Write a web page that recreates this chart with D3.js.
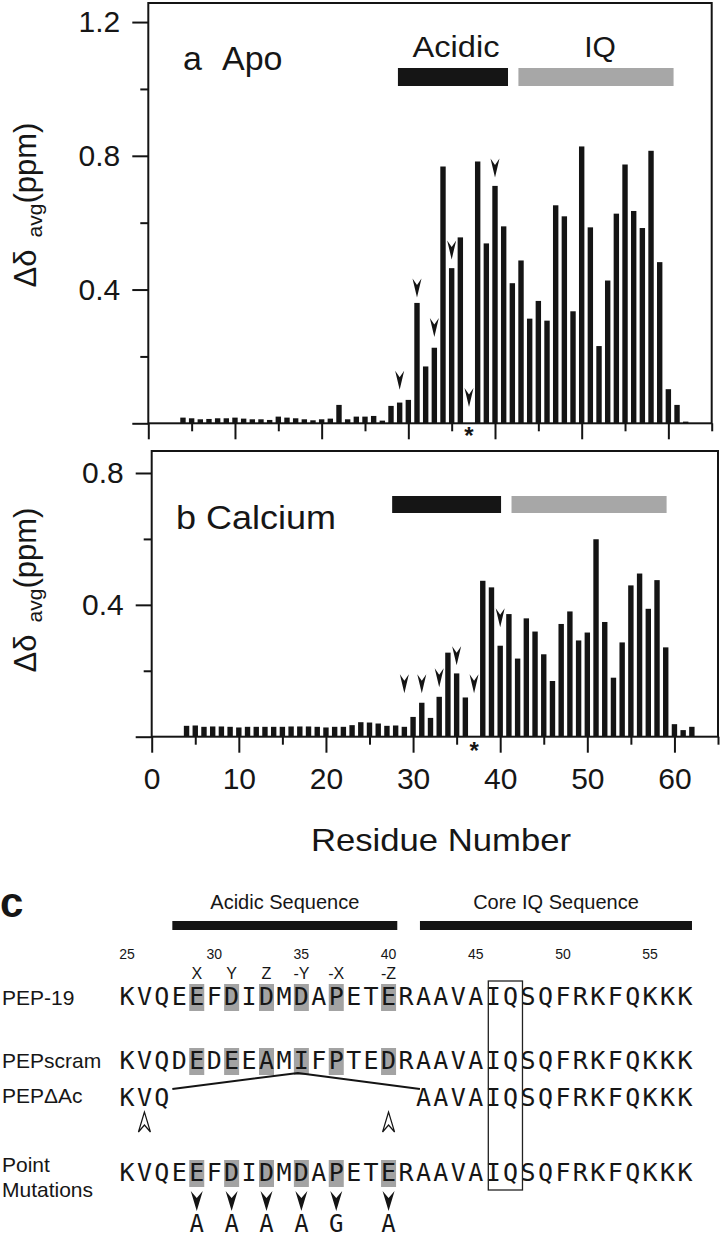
<!DOCTYPE html>
<html><head><meta charset="utf-8">
<script src="https://cdn.jsdelivr.net/npm/d3@7"></script>
<style>
body{margin:0;background:#fff}
svg{display:block}
text{font-family:"Liberation Sans",Arial,sans-serif;fill:#161616}
.mono{font-family:"DejaVu Sans Mono",monospace}
</style>
</head><body>
<svg id="fig" width="720" height="1237"></svg>
<script>
// ---------------- DATA ----------------
const residues = [4,5,6,7,8,9,10,11,12,13,14,15,16,17,18,19,20,21,22,23,24,25,26,27,28,29,30,31,32,33,34,35,36,37,38,39,40,41,42,43,44,45,46,47,48,49,50,51,52,53,54,55,56,57,58,59,60,61,62];
const apoShift = [0.017,0.015,0.012,0.013,0.015,0.015,0.017,0.014,0.012,0.012,0.010,0.020,0.017,0.015,0.012,0.009,0.012,0.014,0.055,0.012,0.020,0.020,0.022,0.008,0.052,0.062,0.070,0.360,0.170,0.226,0.768,0.464,0.556,null,0.783,0.538,0.710,0.589,0.419,0.487,0.313,0.366,0.307,0.652,0.619,0.335,0.828,0.586,0.231,0.427,0.627,0.774,0.635,0.584,0.815,0.482,0.102,0.055,0.005];
const calciumShift = [0.033,0.034,0.030,0.031,0.031,0.030,0.028,0.030,0.030,0.030,0.030,0.030,0.031,0.031,0.031,0.030,0.028,0.030,0.030,0.035,0.044,0.043,0.040,0.033,0.034,0.030,0.060,0.103,0.057,0.121,0.255,0.192,0.119,null,0.473,0.453,0.276,0.372,0.237,0.359,0.319,0.250,0.169,0.342,0.380,0.292,0.316,0.599,0.348,0.179,0.286,0.459,0.495,0.388,0.475,0.271,0.038,0.020,0.030];
const markedResidues = [29,31,33,35,37,40];
const apoArrowTips = [0.100,0.376,0.258,0.490,0.049,0.735];
const calciumArrowTips = [0.132,0.132,0.150,0.217,0.132,0.332];
const unassignedResidue = 37;
const apoRegions = [{name:"Acidic", from:28.8, to:41.5, color:"#151515"},{name:"IQ", from:42.7, to:60.6, color:"#a7a7a7"}];
const calciumRegions = [{name:"", from:27.6, to:40.1, color:"#151515"},{name:"", from:41.3, to:59.1, color:"#a7a7a7"}];
const apoYMajor = [0,0.4,0.8,1.2], apoYMinor = [0.2,0.6,1.0];
const caYMajor = [0,0.4,0.8], caYMinor = [0.2,0.6];
const xMajor = [0,10,20,30,40,50,60], xMinor = [5,15,25,35,45,55,65];

const seqNumbers = [25,30,35,40,45,50,55];
const pairLabels = ["X","Y","Z","-Y","-X","-Z"];
const pep19Seq = "KVQEEFDIDMDAPETERAAVAIQSQFRKFQKKK";
const pepScramSeq = "KVQDEDEEAMIFPTEDRAAVAIQSQFRKFQKKK";
const deltaAcN = {start:25, seq:"KVQ"};
const deltaAcC = {start:42, seq:"AAVAIQSQFRKFQKKK"};
const mutantResidues = ["A","A","A","A","G","A"];
const deletionEnds = [26,40];
const cRegions = [{name:"Acidic Sequence", from:27.6, to:40.5},{name:"Core IQ Sequence", from:41.8, to:57.4}];
const deletionLine = [{r:27.6,lvl:"low"},{r:34.8,lvl:"high"},{r:41.8,lvl:"low"}];
const iqBox = {from:45.72, to:47.68};

// ---------------- DRAW ----------------
const ink = "#141414";
const svg = d3.select("#fig");
const fmt = d3.format(".1f");

function styleAxis(g, font){
  g.select(".domain").remove();
  g.selectAll(".tick line").attr("stroke", ink).attr("stroke-width", 2);
  g.selectAll(".tick text").attr("font-size", font).attr("fill", ink).attr("font-family", '"Liberation Sans",Arial,sans-serif');
  g.attr("font-family", null).attr("font-size", null);
}

function yTitle(cx, cy){
  const t = svg.append("text").attr("transform", `translate(${cx},${cy}) rotate(-90)`)
    .attr("text-anchor","middle").attr("font-size",31);
  t.append("tspan").text("Δδ");
  t.append("tspan").attr("font-size",21).attr("dx",12).attr("dy",6).text("avg");
  t.append("tspan").attr("dy",-6).text("(ppm)");
}

function drawPanel(cfg){
  const x = d3.scaleLinear().domain([0,65]).range([cfg.left, cfg.right]);
  const y = d3.scaleLinear().domain([0, cfg.yMax]).range([cfg.bottom, cfg.top]);
  const g = svg.append("g");
  const data = residues.map((r,i)=>({r, v:cfg.values[i]})).filter(d=>d.v!=null);
  g.selectAll("rect.bar").data(data).join("rect").attr("class","bar")
    .attr("x", d=>x(d.r)-2.7).attr("width",5.4)
    .attr("y", d=>y(d.v)).attr("height", d=>y(0)-y(d.v)).attr("fill", ink);
  g.selectAll("path.arr").data(markedResidues.map((r,i)=>({r, v:cfg.tips[i]}))).join("path")
    .attr("class","arr")
    .attr("transform", d=>`translate(${x(d.r)},${y(d.v)})`)
    .attr("d","M0,0 L-4.5,-19 L0,-12.5 L4.5,-19 Z").attr("fill", ink);
  g.append("text").attr("x", x(unassignedResidue)).attr("y", cfg.bottom+cfg.starDy)
    .attr("text-anchor","middle").attr("font-size",24).attr("font-weight","bold").text("*");
  g.selectAll("rect.reg").data(cfg.regions).join("rect").attr("class","reg")
    .attr("x", d=>x(d.from)).attr("width", d=>x(d.to)-x(d.from))
    .attr("y", cfg.regY).attr("height", cfg.regH).attr("fill", d=>d.color);
  g.append("rect").attr("x",cfg.left).attr("y",cfg.top).attr("width",cfg.right-cfg.left)
    .attr("height",cfg.bottom-cfg.top).attr("fill","none").attr("stroke",ink).attr("stroke-width",2);
  const ya = g.append("g").attr("transform",`translate(${cfg.left},0)`)
    .call(d3.axisLeft(y).tickValues(cfg.yMajor).tickFormat(d=>d===0?"":fmt(d)).tickSize(16).tickSizeOuter(0).tickPadding(12));
  styleAxis(ya, 30);
  const ym = g.append("g").attr("transform",`translate(${cfg.left},0)`)
    .call(d3.axisLeft(y).tickValues(cfg.yMinor).tickFormat("").tickSize(8).tickSizeOuter(0));
  styleAxis(ym, 30);
  const xa = g.append("g").attr("transform",`translate(0,${cfg.bottom})`)
    .call(d3.axisBottom(x).tickValues(xMajor).tickFormat(cfg.xLabels ? d3.format("d") : "").tickSize(16).tickSizeOuter(0).tickPadding(15));
  styleAxis(xa, 30);
  const xm = g.append("g").attr("transform",`translate(0,${cfg.bottom})`)
    .call(d3.axisBottom(x).tickValues(xMinor).tickFormat("").tickSize(8).tickSizeOuter(0));
  styleAxis(xm, 30);
  return {x,y,g};
}

const pa = drawPanel({left:148.3,right:711.7,top:3,bottom:423.3,yMax:1.257,values:apoShift,tips:apoArrowTips,
  regions:apoRegions,regY:68,regH:18,yMajor:apoYMajor,yMinor:apoYMinor,xLabels:false,starDy:21});
pa.g.append("text").attr("x",183).attr("y",70).attr("font-size",34).text("a");
pa.g.append("text").attr("x",222).attr("y",70).attr("font-size",34).text("Apo");
pa.g.selectAll("text.regl").data(apoRegions).join("text").attr("class","regl")
  .attr("x", d=>(pa.x(d.from)+pa.x(d.to))/2 + (d.name==="IQ"?4:3)).attr("y",57)
  .attr("text-anchor","middle").attr("font-size",30)
  .attr("textLength", d=>d.name==="Acidic"?87:null).attr("lengthAdjust","spacingAndGlyphs")
  .text(d=>d.name);
yTitle(36, 205);

const pb = drawPanel({left:151.7,right:718,top:451,bottom:736.7,yMax:0.8667,values:calciumShift,tips:calciumArrowTips,
  regions:calciumRegions,regY:496,regH:17,yMajor:caYMajor,yMinor:caYMinor,xLabels:true,starDy:22});
pb.g.append("text").attr("x",176).attr("y",529).attr("font-size",34)
  .attr("textLength",160).attr("lengthAdjust","spacingAndGlyphs").text("b Calcium");
yTitle(36, 590);

svg.append("text").attr("x",311).attr("y",851).attr("font-size",32)
  .attr("textLength",260).attr("lengthAdjust","spacingAndGlyphs").text("Residue Number");

// ---------------- PANEL C ----------------
const xc = d3.scaleLinear().domain([25,57]).range([127,685]);
const gc = svg.append("g");
gc.append("text").attr("x",0).attr("y",917).attr("font-size",42).attr("font-weight","bold").text("c");
gc.selectAll("rect.creg").data(cRegions).join("rect").attr("class","creg")
  .attr("x",d=>xc(d.from)).attr("width",d=>xc(d.to)-xc(d.from)).attr("y",921).attr("height",9).attr("fill",ink);
gc.selectAll("text.cregl").data(cRegions).join("text").attr("class","cregl")
  .attr("x",d=>(xc(d.from)+xc(d.to))/2).attr("y",909).attr("text-anchor","middle").attr("font-size",20).text(d=>d.name);
gc.selectAll("text.num").data(seqNumbers).join("text").attr("class","num")
  .attr("x",d=>xc(d)).attr("y",959).attr("text-anchor","middle").attr("font-size",14).text(d=>d);
gc.selectAll("text.pair").data(pairLabels).join("text").attr("class","pair")
  .attr("x",(d,i)=>xc(markedResidues[i])).attr("y",979).attr("text-anchor","middle").attr("font-size",16).text(d=>d);

function seqRow(seq, start, baseline, highlight){
  const rows = seq.split("").map((c,i)=>({c, r:start+i}));
  if (highlight){
    gc.selectAll(null).data(rows.filter(d=>markedResidues.includes(d.r))).join("rect")
      .attr("x",d=>xc(d.r)-7.5).attr("width",15).attr("y",baseline-21).attr("height",27).attr("fill","#a3a3a3");
  }
  gc.selectAll(null).data(rows).join("text").attr("class","mono")
    .attr("x",d=>xc(d.r)).attr("y",baseline).attr("text-anchor","middle").attr("font-size",25).text(d=>d.c);
}
const rowY = {pep19:1005, scram:1069, dac:1106, point:1181, mut:1232};
seqRow(pep19Seq, 25, rowY.pep19, true);
seqRow(pepScramSeq, 25, rowY.scram, true);
seqRow(deltaAcN.seq, deltaAcN.start, rowY.dac, false);
seqRow(deltaAcC.seq, deltaAcC.start, rowY.dac, false);
seqRow(pep19Seq, 25, rowY.point, true);

const rowLabels = [{t:"PEP-19",y:1005},{t:"PEPscram",y:1068},{t:"PEPΔAc",y:1103},{t:"Point",y:1172},{t:"Mutations",y:1197}];
gc.selectAll("text.rl").data(rowLabels).join("text").attr("class","rl")
  .attr("x",2).attr("y",d=>d.y).attr("font-size",21).text(d=>d.t);

const lvlY = {low: rowY.dac-17, high: rowY.scram+4};
gc.append("path").datum(deletionLine)
  .attr("d", d3.line().x(d=>xc(d.r)).y(d=>lvlY[d.lvl]))
  .attr("fill","none").attr("stroke",ink).attr("stroke-width",2);
gc.selectAll("path.oa").data(deletionEnds).join("path").attr("class","oa")
  .attr("transform",d=>`translate(${xc(d)},${rowY.dac+6})`)
  .attr("d","M0,0 L-6,20 L0,13 L6,20 Z").attr("fill","#fff").attr("stroke",ink).attr("stroke-width",1.2);
gc.selectAll("path.ma").data(markedResidues).join("path").attr("class","ma")
  .attr("transform",d=>`translate(${xc(d)},${rowY.point+30})`)
  .attr("d","M0,0 L-6,-20 L0,-13 L6,-20 Z").attr("fill",ink);
gc.selectAll("text.mut").data(mutantResidues).join("text").attr("class","mono")
  .attr("x",(d,i)=>xc(markedResidues[i])).attr("y",rowY.mut).attr("text-anchor","middle").attr("font-size",24).text(d=>d);
gc.append("rect").attr("x",xc(iqBox.from)).attr("width",xc(iqBox.to)-xc(iqBox.from))
  .attr("y",981).attr("height",209).attr("fill","none").attr("stroke","#222").attr("stroke-width",1.3);
</script>
</body></html>
